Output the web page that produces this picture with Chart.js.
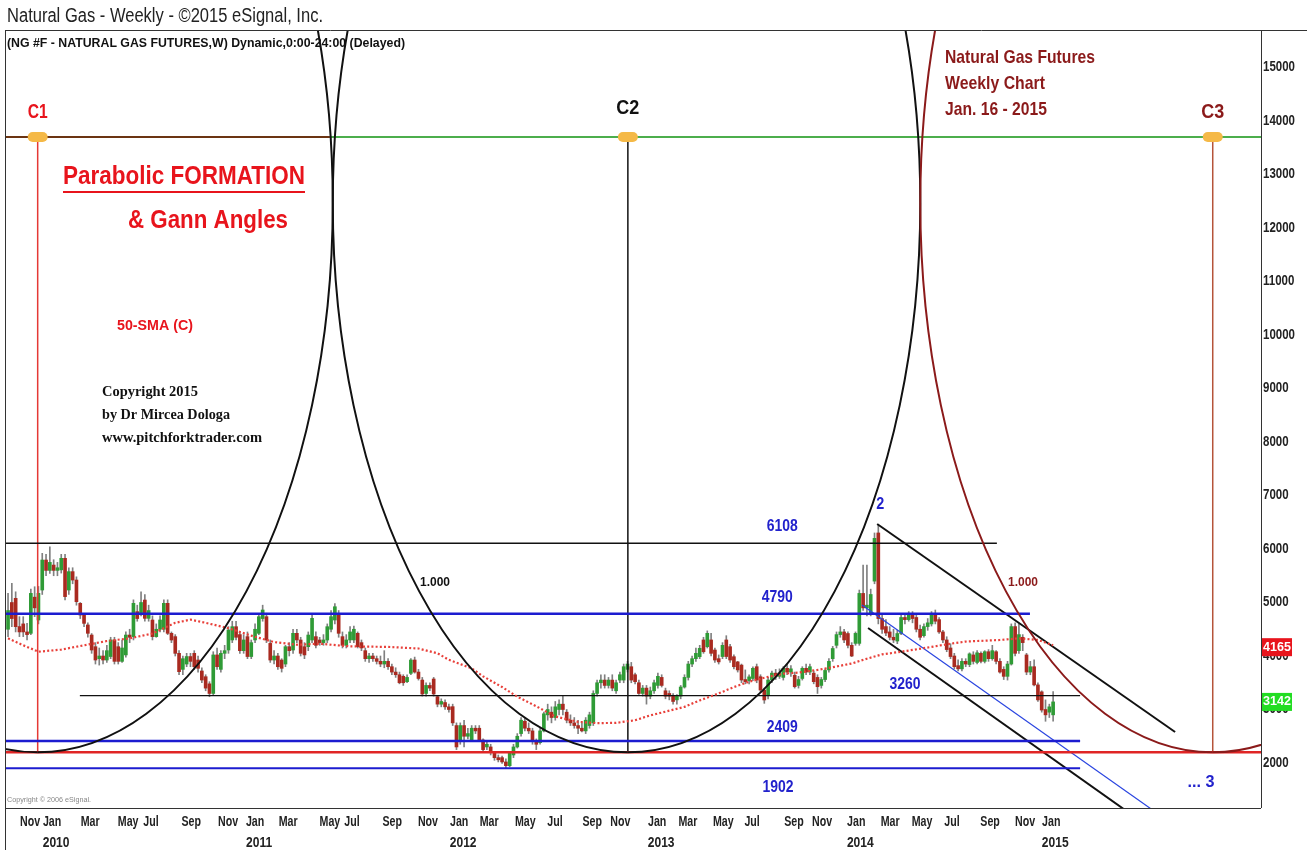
<!DOCTYPE html>
<html>
<head>
<meta charset="utf-8">
<script src="https://cdn.jsdelivr.net/npm/chart.js@4.4.1/dist/chart.umd.min.js"></script>
<style>
html, body { margin: 0; padding: 0; background: #fff; }
#wrap { width: 1307px; height: 850px; }
</style>
</head>
<body>
<div id="wrap"><canvas id="ngChart" width="1307" height="850"></canvas></div>
<script>
// weekly OHLC, week 0 = late Sep 2009, last = mid Jan 2015
const opens = [
  4500,5000,5078,4550,4600,4450,4424,5100,4673,5233, 5794,5600,5700,5600,5610,5826,5233,5577,5420,4985,
  4766,4580,4392,4174,3950,4000,3925,3990,4300,4174, 3900,4020,4392,4362,4829,4800,5046,4704,4673,4362,
  4500,4500,4985,4424,4362,4050,3750,3850,3990,4050, 3925,3720,3613,3480,3300,4020,3750,4050,4112,4300,
  4548,4400,4100,4362,3990,4300,4424,4700,4735,4236, 3925,4000,3925,3850,4174,4112,4424,4299,4174,4174,
  4299,4362,4299,4250,4299,4500,4673,4798,4362,4200, 4300,4300,4424,4250,4100,3950,4000,3950,3900,3850,
  3900,3800,3700,3650,3620,3520,3676,3925,3700,3551, 3300,3450,3570,3240,3100,3130,3050,3053,2700,2400,
  2700,2500,2430,2650,2650,2430,2300,2300,2180,2100, 2100,2020,1950,2150,2300,2550,2780,2650,2600,2400,
  2380,2600,2900,2950,2850,3000,3100,2950,2800,2750, 2700,2650,2600,2700,2750,3300,3500,3550,3450,3550,
  3350,3550,3550,3750,3800,3650,3500,3300,3400,3250, 3350,3450,3600,3350,3300,3250,3180,3250,3420,3600,
  3850,3950,3987,4300,4174,4300,4112,3950,3990,4300, 4174,3987,3890,3830,3560,3540,3580,3800,3613,3364,
  3270,3551,3680,3620,3600,3770,3700,3640,3450,3580, 3770,3700,3680,3600,3450,3560,3740,3950,4200,4400,
  4450,4420,4200,4236,4236,5170,4900,4800,5400,6300, 4700,4550,4450,4350,4280,4420,4720,4680,4780,4720,
  4500,4380,4550,4600,4780,4680,4450,4300,4150,4000, 3820,3760,3900,3840,4020,3880,4050,3900,4080,3950,
  4080,3900,3750,3620,3850,4550,4100,4350,4020,3700, 3800,3460,3330,3000,2950,2900
];
const highs = [
  5170,5357,5200,4735,4735,4610,5250,5295,5300,5919, 5900,6043,5800,5750,5900,5900,5650,5650,5480,5000,
  4800,4620,4420,4250,4150,4100,4200,4350,4350,4250, 4300,4450,4500,5050,4950,5200,5150,4950,4750,4600,
  4750,5050,5050,4450,4400,4100,4000,4050,4050,4100, 4000,3780,3650,3520,4080,4150,4100,4200,4550,4650,
  4650,4450,4400,4450,4300,4600,4800,4950,4800,4300, 4100,4050,3950,4200,4250,4500,4500,4350,4250,4450,
  4800,4450,4350,4400,4600,4850,4980,4850,4450,4400, 4550,4560,4450,4300,4150,4050,4050,4000,4000,4100,
  3950,3850,3780,3700,3650,3650,3950,3980,3750,3600, 3500,3500,3600,3250,3200,3180,3100,3100,2750,2750,
  2800,2650,2700,2700,2700,2450,2400,2350,2200,2150, 2130,2080,2200,2350,2550,2850,2850,2750,2650,2450,
  2650,2950,3100,3050,3150,3180,3250,3000,2900,2850, 2800,2750,2850,2950,3350,3550,3650,3650,3600,3650,
  3550,3700,3850,3900,3880,3680,3550,3450,3450,3420, 3550,3680,3650,3400,3350,3300,3280,3450,3650,3900,
  4000,4150,4200,4350,4470,4424,4150,4020,4250,4380, 4220,4020,3900,3850,3740,3650,3800,3850,3650,3400,
  3600,3720,3750,3760,3800,3850,3820,3700,3620,3800, 3850,3850,3720,3650,3600,3760,3950,4180,4450,4550,
  4500,4450,4250,4450,5233,5700,5700,5250,6300,6448, 4780,4680,4550,4500,4480,4800,4800,4830,4830,4770,
  4580,4600,4700,4830,4860,4720,4480,4360,4230,4050, 3930,3950,3950,4060,4080,4100,4080,4100,4120,4200,
  4100,3950,3800,3900,4600,4620,4600,4400,4050,3900, 3930,3500,3350,3180,3100,3333
];
const lows = [
  4360,4548,4450,4362,4362,4299,4400,4735,4600,5150, 5500,5545,5500,5500,5550,5050,5150,5350,4950,4700,
  4550,4350,4050,3850,3830,3850,3880,3950,3850,3850, 3880,3980,4250,4300,4650,4750,4650,4650,4300,4350,
  4450,4450,4400,4250,4000,3650,3650,3800,3800,3750, 3700,3500,3350,3239,3260,3750,3700,3950,4050,4250,
  4300,4050,4050,3950,3950,4250,4400,4650,4250,3880, 3850,3750,3700,3800,4000,4050,4250,4000,3950,4100,
  4250,4150,4200,4200,4250,4450,4600,4350,4150,4150, 4250,4250,4150,4100,3900,3880,3900,3850,3800,3780,
  3750,3650,3600,3480,3450,3500,3650,3680,3550,3250, 3250,3350,3250,3050,3050,3000,2950,2700,2250,2350,
  2300,2450,2400,2550,2400,2200,2250,2150,2050,2020, 1990,1900,1930,2100,2280,2500,2600,2550,2350,2250,
  2350,2580,2800,2750,2800,2900,2900,2750,2700,2650, 2550,2580,2550,2650,2700,3250,3400,3400,3400,3350,
  3300,3500,3500,3700,3500,3480,3280,3250,3100,3200, 3300,3400,3420,3200,3180,3100,3100,3200,3400,3550,
  3800,3900,3950,4050,4150,4000,3880,3850,3950,3950, 3880,3760,3700,3500,3480,3480,3540,3500,3330,3115,
  3200,3500,3560,3580,3550,3650,3620,3400,3400,3550, 3650,3650,3480,3300,3400,3520,3700,3900,4150,4350,
  4250,4150,3987,4200,4200,4850,4750,4750,5350,4600, 4420,4380,4300,4250,4230,4400,4600,4650,4620,4450,
  4300,4350,4480,4560,4600,4420,4250,4080,3950,3760, 3720,3720,3800,3800,3850,3850,3870,3870,3900,3920,
  3850,3680,3560,3550,3830,4000,4050,4100,3650,3650, 3440,3150,2950,2780,2850,2780
];
const closes = [
  4850,4700,4548,4450,4450,4400,5171,4900,5171,5794, 5600,5750,5600,5650,5826,5110,5577,5420,5015,4766,
  4610,4424,4112,3925,4000,3925,4100,4300,3900,3900, 4150,4392,4350,4985,4700,5000,4704,4850,4362,4500,
  4673,4985,4424,4299,4050,3707,3950,3990,3900,3800, 3770,3551,3400,3300,4020,3800,4050,4100,4486,4548,
  4350,4100,4300,3990,4250,4500,4735,4860,4299,3925, 4000,3800,3770,4174,4100,4424,4300,4050,4020,4392,
  4704,4200,4250,4300,4548,4735,4921,4424,4200,4300, 4450,4500,4174,4150,3950,4000,3950,3900,3850,3900,
  3800,3700,3650,3500,3500,3600,3925,3700,3580,3290, 3450,3400,3290,3100,3150,3050,3000,2750,2300,2700,
  2500,2550,2650,2600,2430,2250,2350,2200,2100,2060, 2020,1950,2180,2300,2500,2800,2650,2600,2400,2350,
  2600,2920,3000,2850,3050,3100,3000,2800,2750,2700, 2650,2600,2800,2900,3300,3500,3550,3450,3550,3400,
  3500,3650,3800,3850,3550,3520,3300,3400,3250,3350, 3500,3620,3450,3250,3250,3150,3250,3420,3600,3850,
  3950,4050,4143,4080,4424,4050,3925,3890,4200,3990, 3925,3800,3740,3551,3520,3610,3770,3551,3364,3178,
  3551,3680,3620,3680,3770,3700,3760,3426,3560,3770, 3700,3800,3520,3426,3560,3730,3900,4140,4400,4450,
  4300,4200,4000,4423,5170,4900,4950,5150,6200,4700, 4500,4430,4350,4300,4420,4720,4680,4780,4700,4500,
  4350,4550,4620,4780,4650,4450,4300,4120,3990,3800, 3760,3900,3850,4040,3900,4060,3900,4080,3950,4100,
  3900,3700,3620,3850,4550,4050,4400,4250,3700,3800, 3460,3180,2990,2900,3050,3142
];

// 50-week SMA of closes
const smaWeeks = [0,4,8,14,20,26,32,38,44,48,52,58,64,70,76,82,90,100,108,113,116,122,125,130,134,139,144,150,155,160,
  165,169,173,178,182,187,191,195,200,204,208,213,217,222,226,230,235,243,248,252,261,266,271,275];
const smaValues = [4330,4200,4080,4120,4200,4280,4330,4420,4620,4680,4620,4520,4380,4260,4210,4230,4180,4170,4140,4050,
  3930,3770,3620,3420,3240,3060,2870,2770,2745,2750,2800,2890,2960,3050,3170,3300,3420,3520,3610,3670,
  3690,3740,3790,3860,3950,4030,4080,4170,4230,4270,4300,4330,4300,4200];
const smaLast = 4165;

const tickWeeks = [5.8,11.6,21.6,31.6,37.6,48.2,57.9,65,73.7,84.7,90.5,101.1,110.5,118.7,126.6,136.1,
  143.9,153.7,161.1,170.8,178.9,188.2,195.8,206.8,214.2,223.2,232.1,240.5,248.4,258.4,267.6,274.5];
const tickMonths = ['Nov','Jan','Mar','May','Jul','Sep','Nov','Jan','Mar','May','Jul','Sep','Nov','Jan','Mar','May',
  'Jul','Sep','Nov','Jan','Mar','May','Jul','Sep','Nov','Jan','Mar','May','Jul','Sep','Nov','Jan'];
const tickYears = ['','2010','','','','','','2011','','','','','','2012','','',
  '','','','2013','','','','','','2014','','','','','','2015'];
const yTicks = [2000,3000,4000,5000,6000,7000,8000,9000,10000,11000,12000,13000,14000,15000];

const levelValues = [6108, 4790, 3260, 2409, 1902];
const baseLevel = 2200;
const topLevel = 13700;
const arcCenterLevel = 12470;
const cycleWeeks = [7.8, 163.1, 317.0];
const cycleNames = ['C1', 'C2', 'C3'];
const gannStart = [[228.7, 6467], [226.3, 4523], [224.7, 4953]];
const gannEnd = [[307.1, 2579], [300, 816], [305, 930]];

const FONT = "'Liberation Sans', Arial, sans-serif";
const SERIF = "'Liberation Serif', 'Times New Roman', serif";
const BLUE = '#2222cc';
const DARKRED = '#8b1a1a';
const RED = '#e8141c';
const INK = '#222';

// text squeezed to a given width (the original uses a condensed face)
function fitText(ctx, str, x, y, w, size, weight, color, family, align) {
  ctx.save();
  ctx.font = weight + ' ' + size + 'px ' + (family || FONT);
  const m = ctx.measureText(str).width;
  const left = align === 'center' ? x - w / 2 : x;
  ctx.translate(left, y);
  ctx.scale(w / m, 1);
  ctx.fillStyle = color;
  ctx.textAlign = 'left';
  ctx.textBaseline = 'middle';
  ctx.fillText(str, 0, 0);
  ctx.restore();
}

// same but with a fixed squeeze factor
function narrowText(ctx, str, x, y, size, sx, color, align) {
  ctx.save();
  ctx.font = 'bold ' + size + 'px ' + FONT;
  ctx.translate(x, y);
  ctx.scale(sx, 1);
  ctx.fillStyle = color;
  ctx.textAlign = align;
  ctx.textBaseline = 'middle';
  ctx.fillText(str, 0, 0);
  ctx.restore();
}

function seg(points, color, width, dash) {
  return {
    type: 'line', data: points, borderColor: color, borderWidth: width,
    borderDash: dash || [], pointRadius: 0, fill: false, tension: 0, clip: 0, order: 2
  };
}

const idx = opens.map((_, i) => i);
const wickData = idx.map(i => ({ x: i, y: [lows[i], highs[i]] }));
const bodyData = idx.map(i => ({ x: i, y: [opens[i], closes[i]] }));
const bodyColors = idx.map(i => closes[i] >= opens[i] ? '#2f9b36' : '#a92a20');

const levelStyle = [
  { from: -0.8, to: 260.2, color: '#111', w: 1.3 },
  { from: -0.8, to: 268.9, color: '#1c1cd0', w: 2.5 },
  { from: 18.9, to: 282.1, color: '#111', w: 1.3 },
  { from: -0.8, to: 282.1, color: '#1c1cd0', w: 2.5 },
  { from: -0.8, to: 282.1, color: '#1c1cd0', w: 2 }
];

const datasets = [
  { type: 'bar', data: wickData, backgroundColor: '#808080', barThickness: 1, grouped: false, order: 20 },
  { type: 'bar', data: bodyData, backgroundColor: bodyColors, barThickness: 3, minBarLength: 1, grouped: false, order: 19 },
  seg(smaWeeks.map((w, i) => ({ x: w, y: smaValues[i] })), '#e8403a', 2.2, [2, 2.2])
];
levelValues.forEach((v, k) => {
  const s = levelStyle[k];
  datasets.push(seg([{ x: s.from, y: v }, { x: s.to, y: v }], s.color, s.w));
});
datasets.push(seg([{ x: -0.8, y: baseLevel }, { x: 329.7, y: baseLevel }], '#e02525', 2.5));
datasets.push(seg([{ x: -0.8, y: topLevel }, { x: 84.7, y: topLevel }], '#6b3412', 2));
datasets.push(seg([{ x: 84.7, y: topLevel }, { x: 329.7, y: topLevel }], '#4cae4c', 2));
const cycleLine = ['#e53935', '#111', '#b5543a'];
cycleWeeks.forEach((w, k) => {
  datasets.push(seg([{ x: w, y: baseLevel }, { x: w, y: topLevel }], cycleLine[k], 1.5));
});
const gannColor = ['#111', '#111', '#2a45e0'];
const gannWidth = [2, 2, 1.2];
gannStart.forEach((p, k) => {
  datasets.push(seg([{ x: p[0], y: p[1] }, { x: gannEnd[k][0], y: gannEnd[k][1] }], gannColor[k], gannWidth[k]));
});

const overlay = {
  id: 'overlay',
  afterDatasetsDraw(chart) {
    const { ctx, chartArea: a, scales: { x, y } } = chart;
    const base = y.getPixelForValue(baseLevel);
    const cy = y.getPixelForValue(arcCenterLevel);
    const b = base - cy;
    const px = cycleWeeks.map(w => x.getPixelForValue(w));
    const arcColor = ['#111', '#111', DARKRED];
    ctx.save();
    ctx.beginPath();
    ctx.rect(a.left, a.top, a.right - a.left, a.bottom - a.top);
    ctx.clip();
    px.forEach((cx, k) => {
      const halfL = k > 0 ? (cx - px[k - 1]) / 2 : (px[1] - px[0]) / 2;
      const halfR = k < px.length - 1 ? (px[k + 1] - cx) / 2 : (cx - px[k - 1]) / 2;
      ctx.strokeStyle = arcColor[k];
      ctx.lineWidth = 2;
      ctx.beginPath();
      ctx.ellipse(cx, cy, halfR, b, 0, -Math.PI / 2, Math.PI / 2);
      ctx.stroke();
      ctx.beginPath();
      ctx.ellipse(cx, cy, halfL, b, 0, Math.PI / 2, Math.PI * 1.5);
      ctx.stroke();
    });
    ctx.restore();
    // cycle markers
    const ty = y.getPixelForValue(topLevel);
    ctx.save();
    ctx.fillStyle = '#f5b947';
    px.forEach(cx => {
      ctx.beginPath();
      ctx.roundRect(cx - 10, ty - 5, 20, 10, 5);
      ctx.fill();
    });
    ctx.restore();
  },
  afterDraw(chart) {
    const { ctx, chartArea: a, scales: { x, y } } = chart;
    ctx.save();
    ctx.strokeStyle = '#333';
    ctx.lineWidth = 1;
    ctx.beginPath();
    ctx.moveTo(a.left + 0.5, a.top); ctx.lineTo(a.left + 0.5, 850);
    ctx.moveTo(a.left, a.top + 0.5); ctx.lineTo(1307, a.top + 0.5);
    ctx.moveTo(a.left, a.bottom + 0.5); ctx.lineTo(a.right, a.bottom + 0.5);
    ctx.moveTo(a.right + 0.5, a.top); ctx.lineTo(a.right + 0.5, a.bottom);
    ctx.stroke();
    ctx.restore();

    // axis labels, condensed, at the positions of the scales' own ticks
    x.ticks.forEach((t, i) => {
      const p = x.getPixelForValue(t.value);
      const lines = Array.isArray(t.label) ? t.label : [t.label];
      narrowText(ctx, lines[0], p, 822, 14, 0.76, INK, 'center');
      if (lines[1]) narrowText(ctx, lines[1], p + 4, 843, 14, 0.86, INK, 'center');
    });
    y.ticks.forEach(t => {
      narrowText(ctx, t.label, a.right + 2, y.getPixelForValue(t.value), 14, 0.82, INK, 'left');
    });

    fitText(ctx, 'Natural Gas - Weekly - \u00a92015 eSignal, Inc.', 7, 16, 316, 20, 'normal', '#222');
    fitText(ctx, '(NG #F - NATURAL GAS FUTURES,W) Dynamic,0:00-24:00 (Delayed)', 7, 43, 398, 13, 'bold', '#111');

    fitText(ctx, 'Parabolic FORMATION', 63, 177, 242, 26, 'bold', RED);
    ctx.fillStyle = RED;
    ctx.fillRect(63, 191, 242, 2);
    fitText(ctx, '& Gann Angles', 128, 221, 160, 26, 'bold', RED);
    fitText(ctx, '50-SMA (C)', 117, 326, 76, 15, 'bold', RED);
    fitText(ctx, 'Copyright 2015', 102, 392, 96, 15, 'bold', '#111', SERIF);
    fitText(ctx, 'by Dr Mircea Dologa', 102, 415, 128, 15, 'bold', '#111', SERIF);
    fitText(ctx, 'www.pitchforktrader.com', 102, 438, 160, 15, 'bold', '#111', SERIF);
    fitText(ctx, 'Natural Gas Futures', 945, 58, 150, 19, 'bold', DARKRED);
    fitText(ctx, 'Weekly Chart', 945, 84, 100, 19, 'bold', DARKRED);
    fitText(ctx, 'Jan. 16 - 2015', 945, 110, 102, 19, 'bold', DARKRED);
    fitText(ctx, 'Copyright \u00a9 2006 eSignal.', 7, 800, 84, 8, 'normal', '#888');

    const ty = y.getPixelForValue(topLevel);
    const cColor = [RED, '#111', DARKRED];
    const cOff = [25, 29, 25];
    cycleWeeks.forEach((w, k) => {
      fitText(ctx, cycleNames[k], x.getPixelForValue(w), ty - cOff[k], k === 0 ? 20 : 23, 20, 'bold', cColor[k], FONT, 'center');
    });

    const lblWeek = [203.7, 202.4, 236, 203.7, 202.6];
    const lblOff = [-17, -16, -11, -14, 19];
    levelValues.forEach((v, k) => {
      fitText(ctx, String(v), x.getPixelForValue(lblWeek[k]), y.getPixelForValue(v) + lblOff[k], 31, 16, 'bold', BLUE, FONT, 'center');
    });
    fitText(ctx, '2', x.getPixelForValue(gannStart[0][0]) + 3, y.getPixelForValue(gannStart[0][1]) - 19, 8, 16, 'bold', BLUE, FONT, 'center');
    fitText(ctx, '... 3', 1201, 783, 27, 16, 'bold', BLUE, FONT, 'center');
    fitText(ctx, '1.000', 435, 582, 30, 13, 'bold', '#111', FONT, 'center');
    fitText(ctx, '1.000', 1023, 582, 30, 13, 'bold', DARKRED, FONT, 'center');

    // last value boxes on the price axis
    const boxes = [[smaLast, '#e8141c'], [closes[closes.length - 1], '#22dd22']];
    boxes.forEach(([v, c]) => {
      const py = y.getPixelForValue(v);
      ctx.fillStyle = c;
      ctx.fillRect(a.right + 1, py - 9, 30, 18);
      fitText(ctx, String(v), a.right + 2, py, 28, 13, 'bold', '#fff');
    });
  }
};

new Chart(document.getElementById('ngChart').getContext('2d'), {
  type: 'bar',
  data: { datasets: datasets },
  options: {
    responsive: false,
    animation: false,
    events: [],
    layout: { padding: { left: 5, top: 30, right: 0, bottom: 0 } },
    plugins: { legend: { display: false }, tooltip: { enabled: false } },
    scales: {
      x: {
        type: 'linear', min: -0.8, max: 329.7, offset: false,
        grid: { display: false, drawTicks: false },
        border: { display: false },
        ticks: {
          autoSkip: false, maxRotation: 0, padding: 4, color: 'rgba(0,0,0,0)',
          font: { family: FONT, size: 11, weight: 'bold', lineHeight: 1.9 },
          callback: (v, i) => tickYears[i] ? [tickMonths[i], tickYears[i]] : tickMonths[i]
        },
        afterBuildTicks: s => { s.ticks = tickWeeks.map(v => ({ value: v })); },
        afterFit: s => { s.height = 42; }
      },
      y: {
        type: 'linear', position: 'right', min: 1159, max: 15701,
        grid: { display: false, drawTicks: false },
        border: { display: false },
        ticks: {
          padding: 2, color: 'rgba(0,0,0,0)',
          font: { family: FONT, size: 12, weight: 'bold' },
          callback: v => String(v)
        },
        afterBuildTicks: s => { s.ticks = yTicks.map(v => ({ value: v })); },
        afterFit: s => { s.width = 46; }
      }
    }
  },
  plugins: [overlay]
});
</script>
</body>
</html>
